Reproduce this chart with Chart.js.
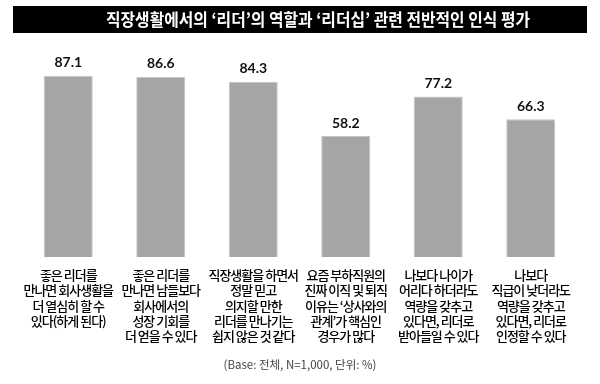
<!DOCTYPE html>
<html>
<head>
<meta charset="utf-8">
<script src="https://cdn.jsdelivr.net/npm/chart.js@4/dist/chart.umd.min.js"></script>
<style>
html,body{margin:0;padding:0;background:#fff;}
#wrap{width:600px;height:384px;position:relative;}
</style>
</head>
<body>
<div id="wrap"><canvas id="c" width="600" height="384"></canvas></div>
<script>
const chartTitle = "직장생활에서의 ‘리더’의 역할과 ‘리더십’ 관련 전반적인 인식 평가";
const footNote = "(Base: 전체, N=1,000, 단위: %)";
const categories = [
  ["좋은 리더를", "만나면 회사생활을", "더 열심히 할 수", "있다(하게 된다)"],
  ["좋은 리더를", "만나면 남들보다", "회사에서의", "성장 기회를", "더 얻을 수 있다"],
  ["직장생활을 하면서", "정말 믿고", "의지할 만한", "리더를 만나기는", "쉽지 않은 것 같다"],
  ["요즘 부하직원의", "진짜 이직 및 퇴직", "이유는 ‘상사와의", "관계’가 핵심인", "경우가 많다"],
  ["나보다 나이가", "어리다 하더라도", "역량을 갖추고", "있다면, 리더로", "받아들일 수 있다"],
  ["나보다", "직급이 낮더라도", "역량을 갖추고", "있다면, 리더로", "인정할 수 있다"]
];
const values = [87.1, 86.6, 84.3, 58.2, 77.2, 66.3];
const yMin = 0, yMax = 100;
const LS = '-1px';

const spacingPlugin = {
  id: 'spacing',
  beforeLayout(chart){ chart.ctx.letterSpacing = LS; },
  beforeDraw(chart){
    const ctx = chart.ctx;
    ctx.save();
    ctx.letterSpacing = '0px';
    ctx.fillStyle = '#000';
    ctx.fillRect(13, 6, 574, 27);
    ctx.fillStyle = '#fff';
    ctx.font = 'bold 17px "Noto Sans CJK KR"';
    ctx.textAlign = 'center';
    ctx.textBaseline = 'middle';
    ctx.fillText(chartTitle, 318, 20, 424);
    ctx.fillStyle = '#444';
    ctx.font = '11.5px "Noto Sans CJK KR"';
    ctx.fillText(footNote, 300, 365, 165);
    ctx.restore();
    ctx.letterSpacing = LS;
  },
  afterDatasetsDraw(chart){
    const ctx = chart.ctx;
    const meta = chart.getDatasetMeta(0);
    ctx.save();
    ctx.letterSpacing = '0px';
    ctx.fillStyle = '#111';
    ctx.font = 'bold 14px Lato';
    ctx.textAlign = 'center';
    ctx.textBaseline = 'middle';
    meta.data.forEach((bar, i) => {
      ctx.fillText(values[i].toFixed(1), bar.x, bar.y - 13);
    });
    ctx.restore();
    ctx.letterSpacing = LS;
  }
};

new Chart(document.getElementById('c'), {
  type: 'bar',
  data: {
    labels: categories,
    datasets: [{
      data: values,
      backgroundColor: '#a5a5a5',
      borderColor: '#c4c4c4',
      borderWidth: 1,
      categoryPercentage: 1,
      barPercentage: 0.53
    }]
  },
  options: {
    responsive: false,
    devicePixelRatio: 1,
    animation: false,
    layout: { padding: { left: 22, right: 23, top: 49, bottom: 38 } },
    plugins: { legend: { display: false }, tooltip: { enabled: false }, title: { display: false } },
    scales: {
      y: { display: false, min: yMin, max: yMax },
      x: {
        grid: { display: false },
        border: { display: false },
        ticks: {
          autoSkip: false,
          maxRotation: 0,
          minRotation: 0,
          padding: 2,
          color: '#000',
          font: { family: '"Noto Sans CJK KR"', size: 13, weight: '500', lineHeight: 1.18 }
        }
      }
    }
  },
  plugins: [spacingPlugin]
});
</script>
</body>
</html>
